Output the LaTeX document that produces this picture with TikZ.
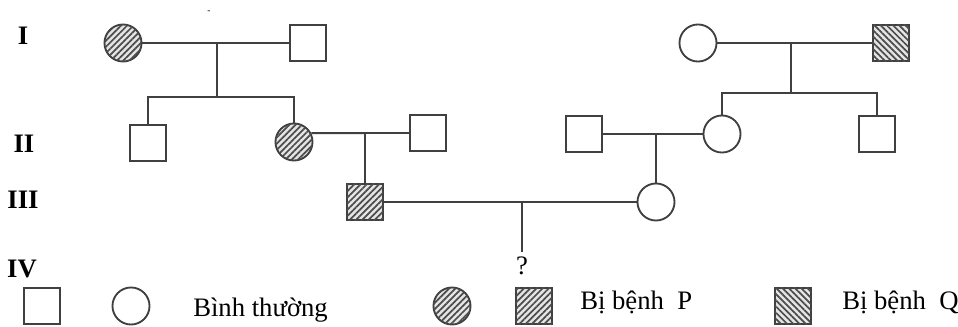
\documentclass[tikz,border=0pt]{standalone}
\usepackage{fontspec}
\setmainfont{Liberation Serif}
\usetikzlibrary{shapes.geometric, patterns.meta, positioning}

\begin{document}
\begin{tikzpicture}[x=0.75pt, y=-0.75pt, font=\fontsize{20}{24}\selectfont]
\tikzstyle{male} = [rectangle, draw=black!75, line width=1.4pt, minimum size=27.3pt, inner sep=0pt]
\tikzstyle{female} = [circle, draw=black!75, line width=1.4pt, minimum size=27.8pt, inner sep=0pt]
\tikzstyle{sickP} = [fill=gray!20, postaction={pattern={Lines[angle=45, distance=3.3pt, line width=1.3pt]}, pattern color=black!70}]
\tikzstyle{sickQ} = [fill=gray!20, postaction={pattern={Lines[angle=-45, distance=3.3pt, line width=1.3pt]}, pattern color=black!70}]
\tikzstyle{gen} = [font=\fontsize{20}{24}\selectfont\bfseries]
\tikzstyle{link} = [draw=black!75, line width=1.4pt]

\useasboundingbox (0,0) rectangle (958,327);

% generations
\node (gI) [gen] at (23,36) {I};
\node (gII) [gen] at (24,144) {II};
\node (gIII) [gen] at (23,200) {III};
\node (gIV) [gen] at (22,269) {IV};
\node (dash) [font=\scriptsize] at (209,12) {-};

% left family
\node (i1) [female, sickP] at (123,43) {};
\node (i2) [male] at (308,43) {};
\node (ii1) [male] at (148,143) {};
\node (ii2) [female, sickP] at (294,142) {};
\node (ii3) [male] at (428,133) {};
\coordinate (m1) at (217,43);
\coordinate (s1) at (217,97);
\coordinate (m2) at (365,133);

% right family
\node (i3) [female] at (698,43) {};
\node (i4) [male, sickQ] at (891,43) {};
\node (ii4) [male] at (584,134) {};
\node (ii5) [female] at (722,134) {};
\node (ii6) [male] at (877,134) {};
\coordinate (m4) at (791,43);
\coordinate (s2) at (791,93);
\coordinate (m5) at (656,134);

% generation III
\node (iii1) [male, sickP] at (365,202) {};
\node (iii2) [female] at (656,202) {};
\coordinate (m3) at (522,202);
\node (child) at (522,266) {?};

\draw[link] (i1) -- (i2);
\draw[link] (m1) -- (s1);
\draw[link] (ii1.north) |- (s1) -| (ii2.north);
\draw[link] (ii2.27) -- (ii3.west);
\draw[link] (m2) -- (iii1.north);

\draw[link] (i3) -- (i4);
\draw[link] (m4) -- (s2);
\draw[link] (ii5.north) |- (s2) -| (ii6.north);
\draw[link] (ii4.east) -- (ii5.west);
\draw[link] (m5) -- (iii2.north);

\draw[link] (iii1.east |- m3) -- (iii2.west);
\draw[link] (m3) -- (child.north);

% legend
\node (lgM) [male] at (42,306) {};
\node (lgF) [female] at (131,306) {};
\node (txtN) [anchor=base west, inner sep=0pt] at (193,317) {Bình thường};
\node (lgPF) [female, sickP] at (452,306) {};
\node (lgPM) [male, sickP] at (534,306) {};
\node (txtP) [anchor=base west, inner sep=0pt] at (580,310) {Bị bệnh\ \ P};
\node (lgQ) [male, sickQ] at (793,306) {};
\node (txtQ) [anchor=base west, inner sep=0pt] at (842,310) {Bị bệnh\ \ Q};

\end{tikzpicture}
\end{document}
